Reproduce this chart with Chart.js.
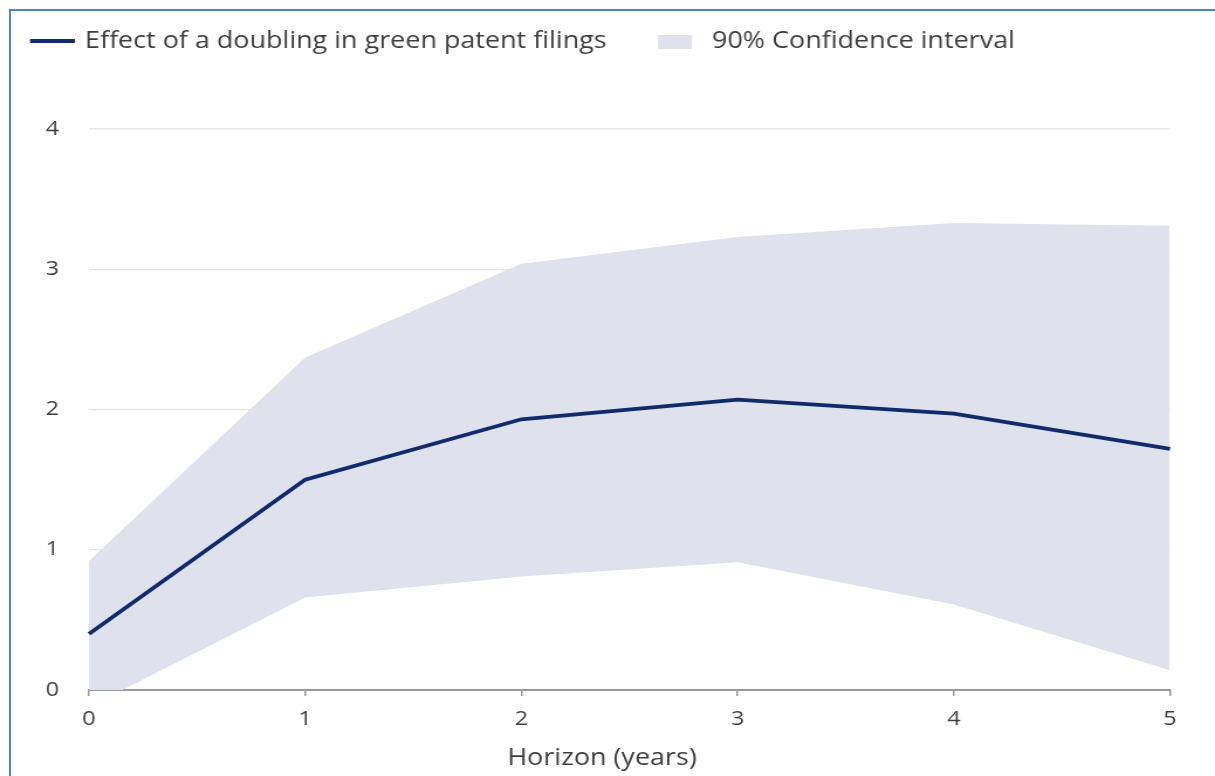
<!DOCTYPE html>
<html>
<head>
<meta charset="utf-8">
<script src="https://cdn.jsdelivr.net/npm/chart.js@4/dist/chart.umd.min.js"></script>
<style>
  html, body { margin: 0; padding: 0; background: #fff; overflow: hidden; }
  #wrap { position: relative; width: 1215px; height: 776px; overflow: hidden; }
  #frame { position: absolute; left: 9px; top: 9px; right: 0; bottom: 0;
           border-left: 2px solid #4f86c6; border-top: 2px solid #4f86c6; }
  /* the chart is drawn on a narrower canvas and widened, giving the wide lettering */
  canvas { position: absolute; left: 0; top: 0; transform-origin: 0 0; }
</style>
</head>
<body>
<div id="wrap">
  <div id="frame"></div>
  <canvas id="chart" width="1038" height="776"></canvas>
</div>
<script>
// Horizon in years
const horizons = ['0', '1', '2', '3', '4', '5'];
// Point estimate: effect of a doubling in green patent filings
const effect = [0.40, 1.50, 1.93, 2.07, 1.97, 1.72];
// 90% confidence interval bounds
const ciUpper = [0.92, 2.37, 3.04, 3.23, 3.33, 3.31];
const ciLower = [-0.12, 0.66, 0.81, 0.91, 0.61, 0.14];
const yTicks = [0, 1, 2, 3, 4];

const LINE_LABEL = 'Effect of a doubling in green patent filings';
const BAND_LABEL = '90% Confidence interval';
const NAVY = '#102a6c';
const BAND = '#dfe2ec';
const TEXT = '#3d3d3d';
const FONT = '"Open Sans", "Noto Sans", sans-serif';

const canvas = document.getElementById('chart');
const STRETCH = 1215 / canvas.width;
canvas.style.transform = 'scaleX(' + STRETCH + ')';
const cx = v => v / STRETCH; // page x -> canvas x

// Legend row and axis title drawn on the canvas
const annotations = {
  id: 'annotations',
  afterDraw(chart) {
    const ctx = chart.ctx;
    ctx.save();
    ctx.font = '23px ' + FONT;
    ctx.fillStyle = TEXT;
    ctx.textBaseline = 'middle';
    ctx.textAlign = 'left';
    // line swatch
    ctx.strokeStyle = NAVY;
    ctx.lineWidth = 4;
    ctx.beginPath();
    ctx.moveTo(cx(30), 41);
    ctx.lineTo(cx(75), 41);
    ctx.stroke();
    ctx.fillText(LINE_LABEL, cx(85), 41);
    // band swatch
    ctx.fillStyle = BAND;
    ctx.fillRect(cx(658), 35, cx(34), 14);
    ctx.fillStyle = TEXT;
    ctx.fillText(BAND_LABEL, cx(712), 41);
    // x-axis title
    ctx.textAlign = 'center';
    ctx.fillText('Horizon (years)', cx(602), 758);
    ctx.restore();
  }
};

new Chart(canvas, {
  type: 'line',
  data: {
    labels: horizons,
    datasets: [
      {
        label: LINE_LABEL,
        data: effect,
        borderColor: NAVY,
        borderWidth: 3.8,
        pointRadius: 0,
        tension: 0,
        fill: false
      },
      {
        label: BAND_LABEL,
        data: ciUpper,
        borderWidth: 0,
        borderColor: 'rgba(0,0,0,0)',
        backgroundColor: BAND,
        pointRadius: 0,
        tension: 0,
        fill: '+1'
      },
      {
        label: 'lower',
        data: ciLower,
        borderWidth: 0,
        borderColor: 'rgba(0,0,0,0)',
        pointRadius: 0,
        tension: 0,
        fill: false
      }
    ]
  },
  options: {
    responsive: false,
    animation: false,
    layout: { padding: { top: 129, right: canvas.width - cx(1170), left: 0, bottom: 0 } },
    plugins: {
      legend: { display: false },
      tooltip: { enabled: false }
    },
    scales: {
      x: {
        offset: false,
        grid: { drawOnChartArea: false, drawTicks: true, tickLength: 6, color: '#9a9a9a', lineWidth: 1.5 },
        border: { display: true, color: '#9a9a9a', width: 2 },
        ticks: { color: TEXT, font: { family: FONT, size: 20 }, padding: 11, maxRotation: 0 },
        afterFit(scale) { scale.height = 776 - 690; }
      },
      y: {
        min: 0,
        max: 4,
        afterBuildTicks(scale) { scale.ticks = yTicks.map(v => ({ value: v })); },
        grid: { drawTicks: false, color: '#e8e8e8', lineWidth: 1.5 },
        border: { display: false },
        ticks: { color: TEXT, font: { family: FONT, size: 20 }, padding: cx(89) - cx(59) },
        afterFit(scale) { scale.width = cx(89); }
      }
    }
  },
  plugins: [annotations]
});
</script>
</body>
</html>
